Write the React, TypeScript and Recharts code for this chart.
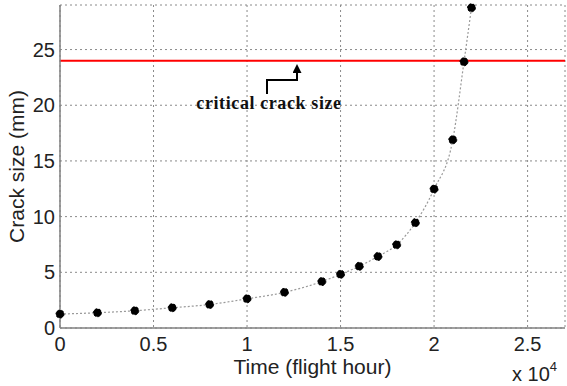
import {
  ComposedChart,
  Line,
  XAxis,
  YAxis,
  CartesianGrid,
  ReferenceLine,
  Label,
} from "recharts";

// flight hours at each inspection
const times = [
  0, 2000, 4000, 6000, 8000, 10000, 12000, 14000, 15000, 16000, 17000, 18000,
  19000, 20000, 21000, 21600, 22000,
];
// measured crack size (mm)
const crackSize = [
  1.25, 1.37, 1.55, 1.82, 2.11, 2.62, 3.2, 4.17, 4.82, 5.54, 6.43, 7.47, 9.46,
  12.47, 16.9, 23.9, 28.75,
];
const xTicks = [0, 5000, 10000, 15000, 20000, 25000];
const yTicks = [0, 5, 10, 15, 20, 25];
const criticalSize = 24;

const data = times.map((t, i) => ({ t, a: crackSize[i] }));

const axisFont = { fontFamily: "Liberation Sans, Arial, sans-serif", fontSize: 20, fill: "#222" };
const labelFont = { ...axisFont, fontSize: 21 };
const frame = "#808080";

export default function App() {
  return (
    <div style={{ position: "relative", width: 567, height: 386 }}>
      <style>{`body{margin:0}`}</style>
      <ComposedChart
        width={567}
        height={386}
        data={data}
        margin={{ top: 5, right: 2, bottom: 0, left: 0 }}
      >
        <CartesianGrid stroke="#8a8a8a" strokeDasharray="2 3" />
        <XAxis
          dataKey="t"
          type="number"
          domain={[0, 27000]}
          ticks={xTicks}
          tickFormatter={(v: number) => `${v / 10000}`}
          height={58}
          tickLine={false}
          tickSize={0}
          tickMargin={9}
          axisLine={{ stroke: frame, strokeWidth: 1.5 }}
          tick={axisFont}
        >
          <Label value="Time (flight hour)" position="center" dy={10} style={labelFont} />
        </XAxis>
        <XAxis
          xAxisId="top"
          orientation="top"
          dataKey="t"
          type="number"
          domain={[0, 27000]}
          height={0}
          tick={false}
          tickLine={false}
          axisLine={{ stroke: frame, strokeWidth: 1.5 }}
        />
        <YAxis
          type="number"
          domain={[0, 29]}
          ticks={yTicks}
          width={60}
          tickLine={false}
          tickSize={0}
          tickMargin={5}
          axisLine={{ stroke: frame, strokeWidth: 1.5 }}
          tick={axisFont}
        >
          <Label value="Crack size (mm)" position="center" angle={-90} dx={-13} style={labelFont} />
        </YAxis>
        <YAxis
          yAxisId="right"
          orientation="right"
          type="number"
          domain={[0, 29]}
          width={0}
          tick={false}
          tickLine={false}
          axisLine={{ stroke: frame, strokeWidth: 1.5 }}
        />
        <ReferenceLine y={criticalSize} stroke="#ff0000" strokeWidth={2} />
        <Line
          dataKey="a"
          type="monotone"
          stroke="#9a9a9a"
          strokeWidth={1.2}
          strokeDasharray="2 2"
          dot={{ r: 4, fill: "#000", stroke: "#000", strokeWidth: 1 }}
          activeDot={false}
          isAnimationActive={false}
        />
      </ComposedChart>
      <svg
        width={567}
        height={386}
        style={{ position: "absolute", left: 0, top: 0, pointerEvents: "none" }}
      >
        <defs>
          <marker
            id="head"
            markerUnits="userSpaceOnUse"
            markerWidth="9"
            markerHeight="9"
            refX="1"
            refY="4.5"
            orient="auto"
          >
            <path d="M0,0 L9,4.5 L0,9 Z" fill="#000" />
          </marker>
        </defs>
        <polyline
          points="267,94 267,80 297,80 297,72"
          fill="none"
          stroke="#000"
          strokeWidth={2}
          markerEnd="url(#head)"
        />
        <text
          x={269}
          y={109}
          textAnchor="middle"
          fontFamily="Liberation Serif, Times New Roman, serif"
          fontWeight="bold"
          fontSize={18}
          letterSpacing={0.6}
          fill="#111"
        >
          critical crack size
        </text>
        <text x={512} y={381} style={axisFont as any} fontSize={19}>
          x 10
          <tspan dy={-10} fontSize={13}>
            4
          </tspan>
        </text>
      </svg>
    </div>
  );
}
